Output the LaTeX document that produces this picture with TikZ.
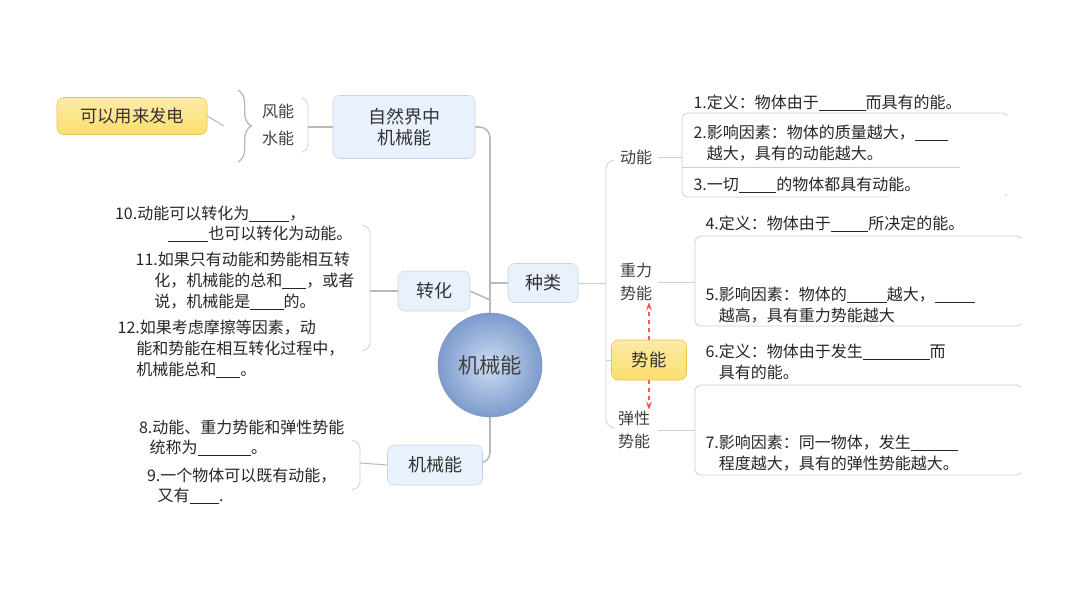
\documentclass[tikz,border=0pt]{standalone}
\usepackage{fontspec}
\setmainfont{Noto Sans CJK SC}
\usetikzlibrary{arrows.meta,decorations.pathreplacing}
\newcommand{\blk}[1]{\underline{\hspace{#1}}}
\definecolor{lbl}{RGB}{233,241,252}
\definecolor{lbd}{RGB}{200,212,228}
\definecolor{ylw}{RGB}{252,222,110}
\definecolor{ylwd}{RGB}{235,195,70}
\definecolor{gl}{RGB}{185,185,185}
\definecolor{cout}{RGB}{125,155,205}
\definecolor{cin}{RGB}{205,220,242}
\tikzset{
 bbox/.style={draw=lbd,fill=lbl,rounded corners=5pt,font=\fontsize{13.5}{16}\selectfont,text=black!80,align=center},
 ybox/.style={draw=ylwd,top color=ylw!60,bottom color=ylw,rounded corners=5pt,font=\fontsize{13}{16}\selectfont,text=black!80,align=center},
 tx/.style={font=\fontsize{12}{15.5}\selectfont,text=black!85,align=left,inner sep=1pt},
 lab/.style={font=\fontsize{12}{17}\selectfont,text=black!75,align=left,inner sep=1pt},
 ln/.style={draw=gl,line width=1.2pt},
 thin/.style={draw=gl!70,line width=0.6pt,rounded corners=4pt},
 arr/.style={draw=red!55!pink,dashed,line width=1.3pt,-{Stealth[length=6pt]}}
}
\begin{document}
\begin{tikzpicture}[x=0.75pt,y=-0.75pt]
\useasboundingbox (0,0) rectangle (1080,597);
% trunk
\draw[ln,rounded corners=8pt] (475,127) -- (490,127) -- (490,463) -- (483,463);
\draw[ln,rounded corners=8pt] (470,291) -- (490,300);
\draw[ln] (490,283) -- (508,283);
\node[circle,minimum size=104pt*0.75,shading=radial,inner color=cin,outer color=cout,draw=cout!80!gray,font=\fontsize{16}{18}\selectfont,text=black!75] (c) at (490,365) {机械能};
\node[bbox,minimum width=142*0.75pt,minimum height=63*0.75pt] (zr) at (404,127) {自然界中\\机械能};
\node[bbox,minimum width=72*0.75pt,minimum height=40*0.75pt] (zh) at (434,291) {转化};
\node[bbox,minimum width=95*0.75pt,minimum height=40*0.75pt] (jx) at (435,465) {机械能};
\node[bbox,minimum width=70*0.75pt,minimum height=39*0.75pt] (zl) at (543,283) {种类};
% top left
\node[lab] (fn) at (278,111) {风能};
\node[lab] (sn) at (278,138) {水能};
\draw[thin] (302,98) -- (308,100) -- (308,150) -- (302,152);
\draw[ln,line width=0.8pt] (308,127) -- (zr.west);
\node[ybox,minimum width=150*0.75pt,minimum height=37*0.75pt] (fd) at (132,116) {可以用来发电};
\draw[ln,line width=1pt,decorate,decoration={brace,amplitude=10pt}] (238,90) -- (238,162);
\draw[ln,line width=0.8pt] (fd.east) -- (224,126);
% left texts
\node[tx,anchor=east] (t10) at (354,224) {10.动能可以转化为\blk{30pt}，\\\hspace{40pt}\blk{30pt}也可以转化为动能。};
\node[tx,anchor=east] (t11) at (356,281) {11.如果只有动能和势能相互转\\\hspace{14pt}化，机械能的总和\blk{18pt}，或者\\\hspace{14pt}说，机械能是\blk{25pt}的。};
\node[tx,anchor=east] (t12) at (346,349) {12.如果考虑摩擦等因素，动\\\hspace{14pt}能和势能在相互转化过程中，\\\hspace{14pt}机械能总和\blk{18pt}。};
\draw[thin] (362,225) -- (370,228) -- (370,348) -- (362,351);
\draw[ln,line width=0.8pt] (370,291) -- (zh.west);
\node[tx,anchor=east] (t8) at (346,438) {8.动能、重力势能和弹性势能\\\hspace{8pt}统称为\blk{40pt}。};
\node[tx,anchor=east] (t9) at (338,486) {9.一个物体可以既有动能，\\\hspace{8pt}又有\blk{22pt}.};
\draw[thin] (352,440) -- (360,443) -- (360,487) -- (352,490);
\draw[ln,line width=0.8pt] (360,463) -- (jx.west);
% right side
\draw[thin] (zl.east) -- (606,283);
\draw[thin] (614,160) -- (606,163) -- (606,425) -- (614,428);
\node[lab] (dn) at (636,157) {动能};
\node[lab] (zlsn) at (636,282) {重力\\势能};
\node[ybox,minimum width=75*0.75pt,minimum height=40*0.75pt] (sn2) at (649,360) {势能};
\node[lab] (txsn) at (634,430) {弹性\\势能};
\draw[arr] (sn2.north) -- (sn2.north |- zlsn.south);
\draw[arr] (sn2.south) -- (sn2.south |- txsn.north);
\draw[thin] (606,360) -- (sn2.west);
% items
\node[tx,anchor=west] (i1) at (692,103) {1.定义：物体由于\blk{35pt}而具有的能。};
\draw[thin] (682,113) rectangle (1008,197);
\draw[draw=gl!70,line width=0.6pt] (682,167) -- (1008,167);
\draw[draw=white,line width=2pt] (1008,111) -- (1008,199) (890,197) -- (1010,197) (960,167)--(1010,167);
\node[tx,anchor=west] (i2) at (692,143) {2.影响因素：物体的质量越大，\blk{25pt}\\\hspace{10pt}越大，具有的动能越大。};
\node[tx,anchor=west] (i3) at (692,185) {3.一切\blk{28pt}的物体都具有动能。};
\draw[thin] (658,157) -- (682,157);
\node[tx,anchor=west] (i4) at (704,224) {4.定义：物体由于\blk{28pt}所决定的能。};
\draw[thin] (695,236) rectangle (1022,326);
\draw[draw=white,line width=2pt] (1022,234) -- (1022,328);
\node[tx,anchor=west] (i5) at (704,305) {5.影响因素：物体的\blk{30pt}越大，\blk{30pt}\\\hspace{10pt}越高，具有重力势能越大};
\draw[thin] (658,282) -- (695,282);
\node[tx,anchor=west] (i6) at (704,362) {6.定义：物体由于发生\blk{50pt}而\\\hspace{10pt}具有的能。};
\draw[thin] (695,385) rectangle (1022,475);
\draw[draw=white,line width=2pt] (1022,383) -- (1022,477);
\node[tx,anchor=west] (i7) at (704,453) {7.影响因素：同一物体，发生\blk{35pt}\\\hspace{10pt}程度越大，具有的弹性势能越大。};
\draw[thin] (658,430) -- (695,430);
\end{tikzpicture}
\end{document}
